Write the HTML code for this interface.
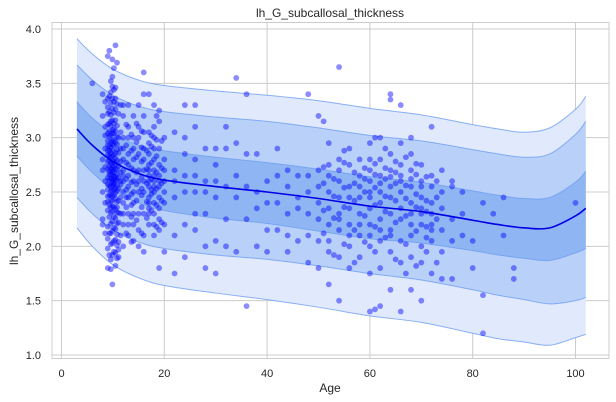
<!DOCTYPE html>
<html><head><meta charset="utf-8"><style>
body{margin:0;background:#fff;}
svg{display:block;font-family:"Liberation Sans","DejaVu Sans",sans-serif;}
</style></head><body>
<svg id="chart" width="616" height="402" viewBox="0 0 616 402" xmlns="http://www.w3.org/2000/svg">
<rect x="0" y="0" width="616" height="402" fill="#fff"/>
<g id="grid"></g>
<g id="bands"></g>
<g id="points"></g>
<g id="medline"></g>
<rect x="52" y="22.5" width="557" height="336" fill="none" stroke="#cccccc" stroke-width="1"/>
<g id="axes"></g>
<text x="330" y="17" text-anchor="middle" font-size="12" fill="#262626">lh_G_subcallosal_thickness</text>
<text x="330" y="392" text-anchor="middle" font-size="12" fill="#262626">Age</text>
<text transform="translate(18,191) rotate(-90)" text-anchor="middle" font-size="12" fill="#262626">lh_G_subcallosal_thickness</text>
</svg>
<script>
const xTicks=[0,20,40,60,80,100];
const yTicks=[1.0,1.5,2.0,2.5,3.0,3.5,4.0];
const curveAges=[3,6,10,15,20,30,40,50,60,70,80,85,90,95,100,102];
const median=[3.08,2.93,2.78,2.67,2.61,2.55,2.50,2.44,2.37,2.32,2.24,2.20,2.17,2.17,2.28,2.35];
const up1=[0.25,0.25,0.26,0.26,0.27,0.27,0.27,0.27,0.27,0.27,0.27,0.27,0.27,0.28,0.31,0.34];
const lo1=[0.25,0.25,0.26,0.27,0.28,0.29,0.29,0.30,0.30,0.29,0.28,0.28,0.28,0.30,0.34,0.37];
const up2=[0.59,0.60,0.61,0.62,0.63,0.64,0.65,0.65,0.65,0.65,0.65,0.65,0.65,0.68,0.75,0.80];
const lo2=[0.63,0.63,0.63,0.63,0.63,0.63,0.62,0.62,0.62,0.63,0.64,0.65,0.66,0.70,0.78,0.82];
const up3=[0.83,0.84,0.85,0.86,0.87,0.88,0.89,0.90,0.90,0.89,0.88,0.88,0.88,0.92,0.98,1.03];
const lo3=[0.91,0.93,0.95,0.96,0.97,0.98,0.99,1.00,1.01,1.02,1.04,1.05,1.05,1.08,1.12,1.16];
const ageCols=[6,8,8.5,9,9.3,9.6,9.9,10.2,10.5,10.8,11.1,11.5,12,12.6,13,13.6,14,14.6,15,15.6,16,16.6,17,17.5,18,18.5,19,19.5,20,22,24,26,28,30,32,34,36,38,40,42,44,46,48,50,51,52,53,54,55,56,57,58,59,60,61,62,63,64,65,66,67,68,69,70,71,72,73,74,76,78,80,82,84,86,88,100];
const valCols=[
[3.5],
[3.2,2.8,2.5,2.2,2.7,3.4,2.25],
[2.6,2.9,3.1,2.4,2.12,3.33,3.02,2.73],
[2.52,2.63,2.71,2.84,2.93,3.04,3.12,3.22,2.41,2.33,2.18,2.07,1.98,2.57,2.78,2.88,2.97,3.36,2.46,1.8,3.75,3.28],
[2.38,2.47,2.56,2.66,2.74,2.83,2.92,3.01,3.13,3.24,3.38,1.92,2.12,2.27,2.69,2.88,3.8,2.61,2.79,3.06],
[2.31,2.42,2.51,2.62,2.71,2.82,2.91,3.02,3.11,3.21,3.32,3.42,2.02,2.12,2.21,1.88,2.55,2.66,2.76,2.86,2.96,1.79,3.15,2.36,3.52,2.47],
[1.65,1.92,2.03,2.14,2.23,2.32,2.42,2.51,2.61,2.69,2.78,2.88,2.97,3.07,3.16,3.27,3.36,3.47,3.56,3.72,2.46,2.56,2.66,2.74,2.83,2.94,3.04,2.37,2.59,2.71],
[1.95,2.05,2.17,2.27,2.36,2.47,2.57,2.64,2.73,2.84,2.93,3.04,3.13,3.23,3.33,3.44,3.64,2.58,2.68,2.78,2.98,2.52,2.62,3.08],
[1.94,2.06,2.16,2.26,2.34,2.44,2.54,2.64,2.76,2.86,2.96,3.06,3.16,3.26,3.36,3.46,3.85,1.82,2.61,2.71,2.81,2.49],
[1.89,2.01,2.11,2.21,2.31,2.41,2.51,2.61,2.71,2.79,2.89,3.01,3.11,3.31,3.69,2.56,2.66,2.94,2.36],
[1.9,2.04,2.22,2.42,2.53,2.63,2.74,2.86,3.0,3.22,2.31,1.97],
[2.1,2.3,2.45,2.57,2.68,2.78,2.9,3.05,3.3,2.6],
[2.0,2.2,2.4,2.5,2.6,2.7,2.8,2.9,3.0,3.2,3.3,2.3,2.65],
[2.12,2.36,2.52,2.62,2.77,2.93,3.12,2.45],
[2.1,2.3,2.45,2.55,2.65,2.75,2.85,3.0,3.1,3.3,2.2],
[2.04,2.27,2.48,2.59,2.72,2.88,3.03,2.38],
[2.05,2.3,2.4,2.5,2.6,2.7,2.8,2.9,3.0,3.2,2.2],
[2.24,2.42,2.57,2.68,2.82,2.96,3.13],
[2.0,2.3,2.5,2.6,2.7,2.85,3.0,3.1,3.3,2.15],
[2.12,2.36,2.53,2.64,2.78,2.91,3.06,2.47],
[1.95,2.1,2.3,2.5,2.6,2.7,2.8,2.9,3.05,3.2,3.6,3.4],
[2.26,2.41,2.58,2.71,2.88],
[2.2,2.35,2.45,2.55,2.65,2.75,2.85,2.95,3.05,2.3,2.4,3.4,2.6,2.7],
[2.33,2.48,2.62,2.77,2.92,3.02,2.52],
[2.1,2.3,2.4,2.5,2.6,2.7,2.8,2.9,3.0,3.1,3.3,2.2,2.55,2.65],
[2.18,2.38,2.53,2.68,2.83,2.98,3.2],
[1.8,2.15,2.35,2.45,2.55,2.65,2.75,2.9,3.15,3.25,2.25,2.6],
[2.22,2.42,2.58,2.72,2.97],
[1.95,2.2,2.4,2.5,2.6,2.7,2.8,3.0],
[1.75,2.1,2.45,2.6,2.7,3.05],
[1.9,2.2,2.5,2.65,3.0,3.3,2.85],
[2.15,2.5,2.65,2.8,3.1,3.3,2.3],
[2.0,2.3,2.5,2.6,2.9,1.8],
[2.05,2.45,2.6,2.75,2.9,1.75],
[2.25,2.55,2.9,3.1,2.0],
[1.95,2.45,2.65,2.95,3.55],
[1.45,2.25,2.55,2.85,3.4],
[2.0,2.35,2.5,2.85],
[2.15,2.4,2.6,1.95],
[2.15,2.4,2.9,2.65],
[1.95,2.3,2.55,2.1,2.7],
[2.05,2.35,2.45,2.65],
[1.85,2.1,2.3,2.5,2.65,3.4],
[1.8,2.05,2.25,2.4,2.55,2.7,3.2],
[2.12,2.33,2.58,2.73,3.15],
[1.65,1.95,2.2,2.35,2.5,2.65,2.75,2.95,2.05],
[2.26,2.46,2.62,1.92],
[1.5,1.9,2.15,2.3,2.45,2.6,2.7,2.8,3.65,2.25],
[2.02,2.36,2.54,2.77,2.88],
[1.8,2.0,2.2,2.35,2.45,2.55,2.75,2.9,2.1],
[2.15,2.42,2.58,2.68,1.85],
[1.9,2.1,2.3,2.45,2.55,2.65,2.8,2.2],
[2.04,2.28,2.5,2.72,2.62],
[1.4,1.75,2.0,2.2,2.35,2.45,2.6,2.7,2.95,2.1,2.5,2.8],
[1.95,2.18,2.38,2.54,2.66,2.76,3.0,1.42],
[1.45,1.8,2.05,2.25,2.4,2.5,2.65,2.8,3.0,2.15,2.58],
[2.08,2.32,2.46,2.62,2.72,2.9],
[1.6,1.95,2.15,2.3,2.45,2.55,2.7,2.85,3.4,2.1,2.64,3.35],
[1.88,2.22,2.42,2.58,2.78,2.68],
[1.4,1.85,2.05,2.25,2.35,2.5,2.6,2.75,3.3,2.95,2.65],
[2.02,2.28,2.44,2.56,2.82,1.75],
[1.6,1.9,2.1,2.3,2.4,2.55,2.7,2.85,2.2,2.62,3.0],
[1.82,2.14,2.36,2.48,2.66,2.76],
[1.5,1.85,2.0,2.2,2.35,2.45,2.6,2.75,2.3,2.55],
[1.95,2.18,2.32,2.42,2.64,2.08],
[1.75,2.05,2.15,2.3,2.4,2.55,2.65,3.1,2.2],
[1.85,2.25,2.45,2.6],
[1.7,1.95,2.15,2.35,2.5,2.7],
[1.7,2.05,2.25,2.55,2.6],
[2.1,2.3,2.5],
[2.05,1.8],
[1.55,1.2,2.4],
[2.3],
[2.1,2.45],
[1.8,1.7],
[2.4]
];
const X0=61.5,XS=5.14,Y0=355,YS=108.67;
const sx=a=>X0+a*XS, sy=v=>Y0-(v-1)*YS;
const NS="http://www.w3.org/2000/svg";
function mk(t,p,at){const e=document.createElementNS(NS,t);for(const k in at)e.setAttribute(k,at[k]);p.appendChild(e);return e;}
const grid=document.getElementById('grid'),axes=document.getElementById('axes');
xTicks.forEach(t=>{
 const l=mk('line',grid,{x1:sx(t),x2:sx(t),y1:22.5,y2:358.5,stroke:'#cccccc','stroke-width':1});
 
 
 const tx=mk('text',axes,{x:sx(t),y:377,'text-anchor':'middle','font-size':11,fill:'#262626'});
 tx.textContent=t;
 
 
});
yTicks.forEach(t=>{
 const l=mk('line',grid,{x1:52,x2:609,y1:sy(t),y2:sy(t),stroke:'#cccccc','stroke-width':1});
 
 
 const tx=mk('text',axes,{x:41,y:sy(t)+4,'text-anchor':'end','font-size':11,fill:'#262626'});
 tx.textContent=t.toFixed(1);
 
 
});
function pts(off,sign){return curveAges.map((a,i)=>[sx(a),sy(median[i]+sign*(off?off[i]:0))]);}
function smooth(p){let d='M'+p[0][0]+','+p[0][1];for(let i=0;i<p.length-1;i++){const p0=p[i-1]||p[i],p1=p[i],p2=p[i+1],p3=p[i+2]||p2;d+=' C'+(p1[0]+(p2[0]-p0[0])/6)+','+(p1[1]+(p2[1]-p0[1])/6)+' '+(p2[0]-(p3[0]-p1[0])/6)+','+(p2[1]-(p3[1]-p1[1])/6)+' '+p2[0]+','+p2[1];}return d;}
function smoothRev(p){return smooth(p.slice().reverse()).replace('M','L');}
const bands=document.getElementById('bands');
[[up3,lo3,'#e1eafd','outer'],[up2,lo2,'#b9d0f8','middle'],[up1,lo1,'#8fb5f2','inner']].forEach(([u,l,c,n])=>{
 const top=pts(u,1),bot=pts(l,-1);
 const p=mk('path',bands,{d:smooth(top)+' '+smoothRev(bot)+' Z',fill:c,stroke:'none'});
 
 
 [top,bot].forEach(q=>{const e=mk('path',bands,{d:smooth(q),fill:'none',stroke:'#6e9ef0','stroke-width':1,opacity:0.8});
 
 });
});
const pg=document.getElementById('points');
ageCols.forEach((a,i)=>valCols[i].forEach(v=>{
 const c=mk('circle',pg,{cx:sx(a),cy:sy(v),r:2.9,fill:'#0000ff','fill-opacity':0.45});
 
 
}));
const m=mk('path',document.getElementById('medline'),{d:smooth(pts(null,1)),fill:'none',stroke:'#0000e6','stroke-width':1.6});


</script>
</body></html>
